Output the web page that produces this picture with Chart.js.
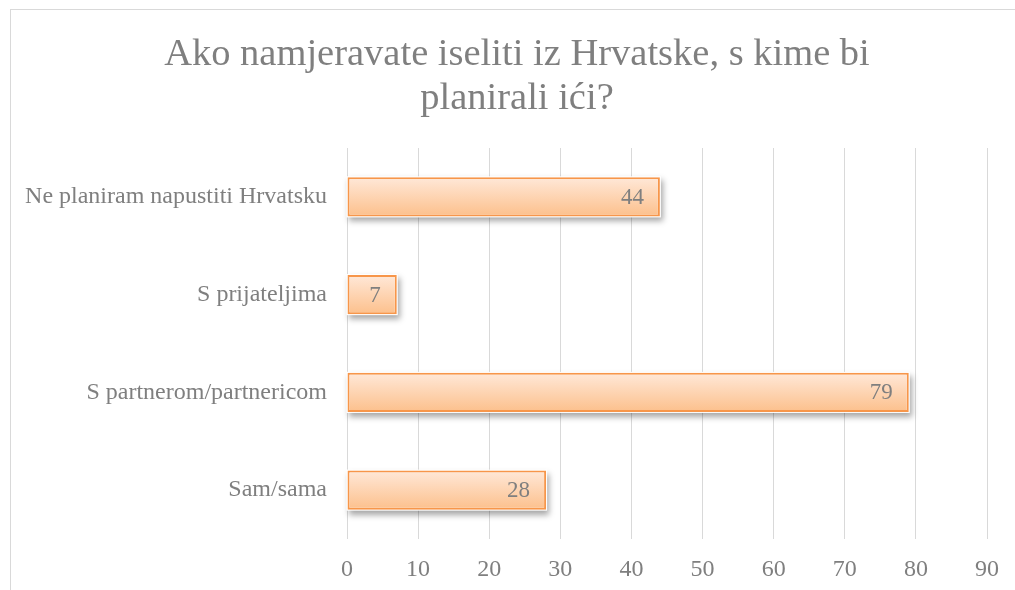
<!DOCTYPE html>
<html>
<head>
<meta charset="utf-8">
<script src="https://cdn.jsdelivr.net/npm/chart.js@4"></script>
<style>
  html, body { margin: 0; padding: 0; background: #ffffff; }
  #wrap { position: relative; width: 1015px; height: 590px; }
  #frame { position: absolute; left: 10px; top: 9px; right: -2px; bottom: -2px; border-left: 1px solid #d9d9d9; border-top: 1px solid #d9d9d9; pointer-events: none; }
  canvas { position: absolute; left: 0; top: 0; }
</style>
</head>
<body>
<div id="wrap">
  <canvas id="c" width="1015" height="590"></canvas>
  <div id="frame"></div>
</div>
<script>
const titleLines = ["Ako namjeravate iseliti iz Hrvatske, s kime bi", "planirali ići?"];
const categories = ["Ne planiram napustiti Hrvatsku", "S prijateljima", "S partnerom/partnericom", "Sam/sama"];
const values = [44, 7, 79, 28];
const xTickMax = 90;
const xTickStep = 10;

const serif = "'Liberation Serif', 'Times New Roman', serif";

const chartTitle = {
  id: 'chartTitle',
  afterDraw(chart) {
    const ctx = chart.ctx;
    ctx.save();
    ctx.font = "38.5px " + serif;
    ctx.fillStyle = '#7f7f7f';
    ctx.textAlign = 'center';
    ctx.textBaseline = 'alphabetic';
    const cx = chart.width / 2 + 9.5;
    titleLines.forEach((line, i) => {
      ctx.fillText(line, cx, 65 + i * 44);
    });
    ctx.restore();
  }
};

// soft drop shadow drawn under each bar (bar itself drawn without shadow)
const barShadow = {
  id: 'barShadow',
  beforeDatasetsDraw(chart) {
    const ctx = chart.ctx;
    const meta = chart.getDatasetMeta(0);
    ctx.save();
    ctx.shadowColor = 'rgba(0,0,0,0.35)';
    ctx.shadowBlur = 6;
    ctx.shadowOffsetX = 2;
    ctx.shadowOffsetY = 4;
    ctx.fillStyle = '#ffffff';
    meta.data.forEach(bar => {
      const p = bar.getProps(['x', 'y', 'base', 'height'], true);
      ctx.fillRect(p.base - 1, p.y - p.height / 2 - 1, p.x - p.base + 2, p.height + 2);
    });
    ctx.restore();
  }
};

const valueLabels = {
  id: 'valueLabels',
  afterDatasetsDraw(chart) {
    const ctx = chart.ctx;
    const meta = chart.getDatasetMeta(0);
    ctx.save();
    ctx.font = "23px " + serif;
    ctx.fillStyle = '#7f7f7f';
    ctx.textAlign = 'right';
    ctx.textBaseline = 'middle';
    meta.data.forEach((bar, i) => {
      ctx.fillText(String(chart.data.datasets[0].data[i]), bar.x - 16, bar.y + 1);
    });
    ctx.restore();
  }
};

new Chart(document.getElementById('c'), {
  type: 'bar',
  data: {
    labels: categories,
    datasets: [{
      data: values,
      backgroundColor(context) {
        const chart = context.chart;
        const y = chart.scales && chart.scales.y;
        if (!y || context.dataIndex === undefined) return '#fcd0aa';
        const c = y.getPixelForValue(context.dataIndex);
        const half = (y.height / categories.length) * 0.4 / 2;
        if (!isFinite(c) || !isFinite(half) || half <= 0) return '#fcd0aa';
        const g = chart.ctx.createLinearGradient(0, c - half, 0, c + half);
        g.addColorStop(0, '#ffe8d8');
        g.addColorStop(1, '#fcc08c');
        return g;
      },
      borderColor: '#f7964a',
      borderWidth: 2,
      borderSkipped: false,
      barPercentage: 0.5,
      categoryPercentage: 0.8
    }]
  },
  options: {
    indexAxis: 'y',
    responsive: false,
    animation: false,
    layout: { padding: { left: 0, right: 26, top: 148, bottom: 0 } },
    plugins: {
      legend: { display: false },
      tooltip: { enabled: false },
      title: { display: false }
    },
    scales: {
      x: {
        min: 0,
        max: xTickMax,
        ticks: { stepSize: xTickStep, color: '#7f7f7f', font: { family: serif, size: 24 }, padding: 16 },
        grid: { color: '#d9d9d9', lineWidth: 1, drawTicks: false },
        border: { display: false },
        afterFit(scale) { scale.height = 51; }
      },
      y: {
        ticks: { color: '#7f7f7f', font: { family: serif, size: 24 }, padding: 20 },
        grid: { display: false, drawTicks: false },
        border: { display: false },
        afterFit(scale) { scale.width = 347; }
      }
    }
  },
  plugins: [barShadow, valueLabels, chartTitle]
});
</script>
</body>
</html>
